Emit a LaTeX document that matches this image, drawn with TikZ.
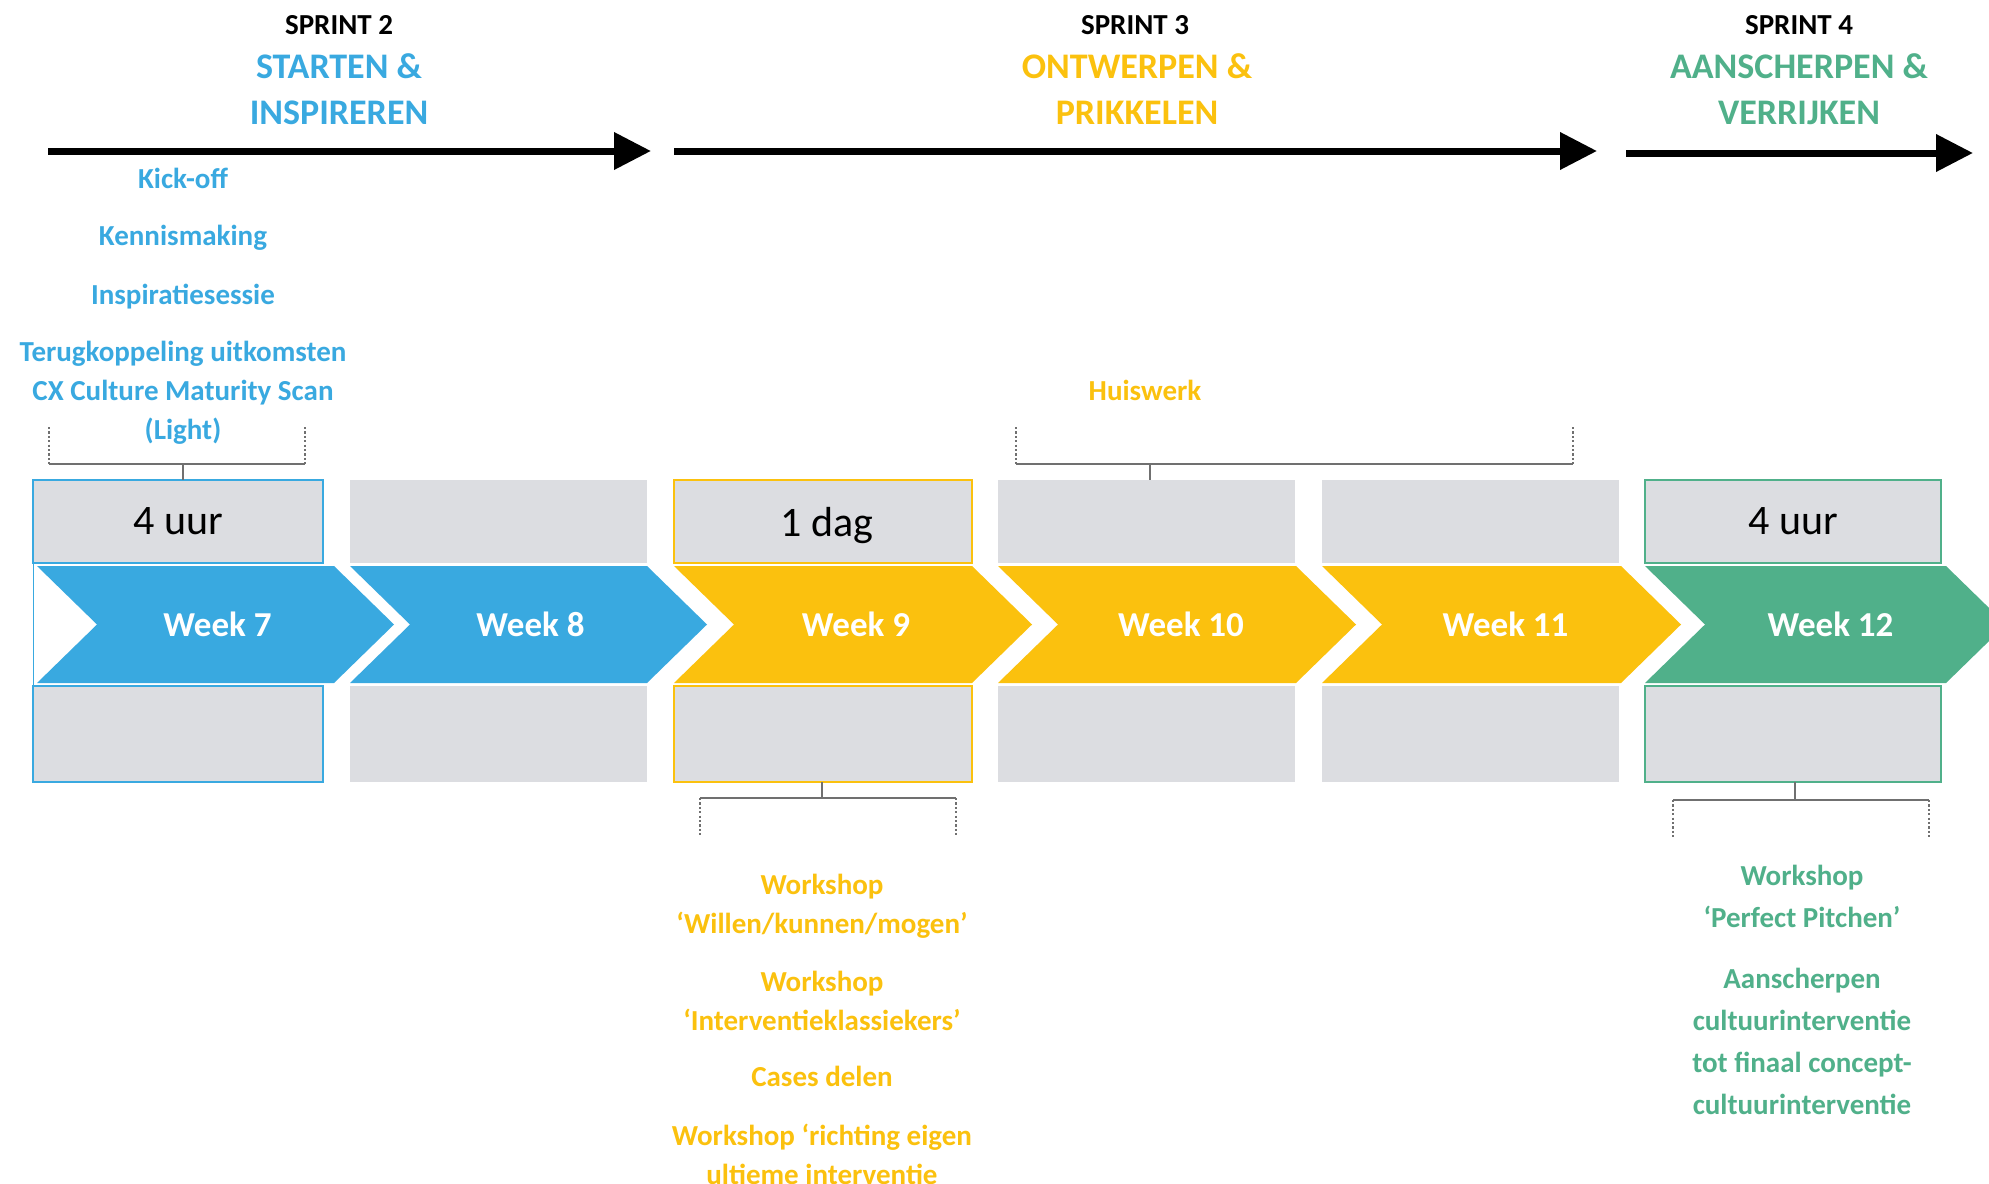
\documentclass[tikz,border=0pt]{standalone}
\usepackage{fontspec}
\setmainfont{Carlito}
\usetikzlibrary{arrows.meta}

\definecolor{sprintblue}{RGB}{57,169,224}
\definecolor{sprintyellow}{RGB}{251,193,14}
\definecolor{sprintgreen}{RGB}{80,176,138}
\definecolor{cellgray}{RGB}{220,221,225}
\definecolor{bracketgray}{RGB}{112,112,112}

\begin{document}
\begin{tikzpicture}[x=0.5pt,y=-0.5pt,
  phase/.style={line width=3.5pt,-{Triangle[length=18.5pt,width=18pt]}},
  sprintno/.style={font=\bfseries\fontsize{14.5pt}{17pt}\selectfont,text=black},
  sprintname/.style={font=\bfseries\fontsize{18pt}{23pt}\selectfont,align=center},
  item/.style={font=\bfseries\fontsize{14.5pt}{19.5pt}\selectfont,align=center},
  itemwide/.style={font=\bfseries\fontsize{14.5pt}{21pt}\selectfont,align=center},
  cell/.style={fill=cellgray,inner sep=0pt,outer sep=0pt,anchor=north west},
  topcell/.style={cell,minimum height=41.5pt,font=\fontsize{21pt}{24pt}\selectfont},
  botcell/.style={cell,minimum height=48pt},
  weeklabel/.style={font=\bfseries\fontsize{17.5pt}{20pt}\selectfont,text=white},
  bracket/.style={draw=bracketgray,line width=1pt},
  bracketend/.style={draw=bracketgray,line width=1.2pt,dash pattern=on 1.1pt off 1.1pt},
]
\clip (0,0) rectangle (1989,1183);
\fill[white] (0,0) rectangle (1989,1183);

% ---------- sprint headings ----------
\node[sprintno] (s2) at (339,25) {SPRINT 2};
\node[sprintname,text=sprintblue] (s2name) at (339,89) {STARTEN \&\\INSPIREREN};
\node[sprintno] (s3) at (1135,25) {SPRINT 3};
\node[sprintname,text=sprintyellow] (s3name) at (1137,89) {ONTWERPEN \&\\PRIKKELEN};
\node[sprintno] (s4) at (1799,25) {SPRINT 4};
\node[sprintname,text=sprintgreen] (s4name) at (1799,89) {AANSCHERPEN \&\\VERRIJKEN};

% ---------- phase arrows ----------
\coordinate (a2s) at (48,151);   \coordinate (a2e) at (651,151);
\coordinate (a3s) at (674,151);  \coordinate (a3e) at (1597,151);
\coordinate (a4s) at (1626,153); \coordinate (a4e) at (1973,153);
\draw[phase] (a2s) -- (a2e);
\draw[phase] (a3s) -- (a3e);
\draw[phase] (a4s) -- (a4e);

% ---------- grey cells above and below the weeks ----------
\node[topcell,minimum width=145pt] (t7) at (33,480) {4 uur};
\node[botcell,minimum width=145pt] (b7) at (33,686) {};
\node[topcell,minimum width=148.5pt] (t8) at (350,480) {};
\node[botcell,minimum width=148.5pt] (b8) at (350,686) {};
\node[topcell,minimum width=149pt,text depth=0pt] (t9) at (674,480) {\hspace*{4pt}1 dag};
\node[botcell,minimum width=149pt] (b9) at (674,686) {};
\node[topcell,minimum width=148.5pt] (t10) at (998,480) {};
\node[botcell,minimum width=148.5pt] (b10) at (998,686) {};
\node[topcell,minimum width=148.5pt] (t11) at (1322,480) {};
\node[botcell,minimum width=148.5pt] (b11) at (1322,686) {};
\node[topcell,minimum width=148pt] (t12) at (1645,480) {4 uur};
\node[botcell,minimum width=148pt] (b12) at (1645,686) {};

% outlines of the session weeks
\draw[sprintblue,line width=1.2pt] (t7.south west) rectangle (t7.north east);
\draw[sprintblue,line width=1.2pt] (b7.south west) rectangle (b7.north east);
\draw[sprintblue,line width=0.5pt] (t7.south west) -- (b7.north west);
\draw[sprintyellow,line width=1.2pt] (t9.south west) rectangle (t9.north east);
\draw[sprintyellow,line width=1.2pt] (b9.south west) rectangle (b9.north east);
\draw[sprintgreen,line width=1.2pt] (t12.south west) rectangle (t12.north east);
\draw[sprintgreen,line width=1.2pt] (b12.south west) rectangle (b12.north east);

% ---------- week chevrons ----------
\foreach \L/\R/\c/\n/\dx in {37/334/sprintblue/7/2, 350/647/sprintblue/8/2,
    674/972/sprintyellow/9/3, 998/1296/sprintyellow/10/4,
    1322/1621/sprintyellow/11/4, 1645/1946/sprintgreen/12/5} {
  \fill[\c] (\L,566) -- (\R,566) -- ({\R+60},624.5) -- (\R,683)
            -- (\L,683) -- ({\L+60},624.5) -- cycle;
  \node[weeklabel] (w\n) at ({(\L+\R+60)/2+\dx},624.5) {Week \n};
}

% ---------- sprint 2 activities ----------
\node[item,text=sprintblue] (kick) at (183,178) {Kick-off};
\node[item,text=sprintblue] (kennis) at (183,238) {Kennismaking};
\node[item,text=sprintblue] (inspi) at (183,297) {Inspiratiesessie};
\node[item,text=sprintblue] (terug) at (183,393)
  {Terugkoppeling uitkomsten\\CX Culture Maturity Scan\\(Light)};

\coordinate (k7l) at (49,427);  \coordinate (k7r) at (305,427);
\coordinate (k7m) at (183,464);
\draw[bracketend] (k7l) -- (k7l |- k7m);
\draw[bracketend] (k7r) -- (k7r |- k7m);
\draw[bracket] (k7l |- k7m) -- (k7r |- k7m);
\draw[bracket] (k7m) -- (k7m |- t7.north);

% ---------- homework ----------
\node[item,text=sprintyellow] (huis) at (1145,390) {Huiswerk};
\coordinate (h1l) at (1016,427); \coordinate (h1r) at (1573,427);
\coordinate (h1m) at (1150,464);
\draw[bracketend] (h1l) -- (h1l |- h1m);
\draw[bracketend] (h1r) -- (h1r |- h1m);
\draw[bracket] (h1l |- h1m) -- (h1r |- h1m);
\draw[bracket] (h1m) -- (h1m |- t10.north);

% ---------- sprint 3 activities ----------
\coordinate (k9m) at (822,798);
\coordinate (k9l) at (700,836); \coordinate (k9r) at (956,836);
\draw[bracket] (k9m |- b9.south) -- (k9m);
\draw[bracket] (k9l |- k9m) -- (k9r |- k9m);
\draw[bracketend] (k9l |- k9m) -- (k9l);
\draw[bracketend] (k9r |- k9m) -- (k9r);

\node[item,text=sprintyellow] (ws1) at (822,906) {Workshop\\‘Willen/kunnen/mogen’};
\node[item,text=sprintyellow] (ws2) at (822,1000.5) {Workshop\\‘Interventieklassiekers’};
\node[item,text=sprintyellow] (cases) at (822,1076.5) {Cases delen};
\node[item,text=sprintyellow] (ws3) at (822,1154) {Workshop ‘richting eigen\\ultieme interventie};

% ---------- sprint 4 activities ----------
\coordinate (k12m) at (1795,800);
\coordinate (k12l) at (1673,837); \coordinate (k12r) at (1929,837);
\draw[bracket] (k12m |- b12.south) -- (k12m);
\draw[bracket] (k12l |- k12m) -- (k12r |- k12m);
\draw[bracketend] (k12l |- k12m) -- (k12l);
\draw[bracketend] (k12r |- k12m) -- (k12r);

\node[itemwide,text=sprintgreen] (pitch) at (1802,896.5) {Workshop\\‘Perfect Pitchen’};
\node[itemwide,text=sprintgreen] (scherp) at (1802,1041)
  {Aanscherpen\\cultuurinterventie\\tot finaal concept-\\cultuurinterventie};
\end{tikzpicture}
\end{document}
